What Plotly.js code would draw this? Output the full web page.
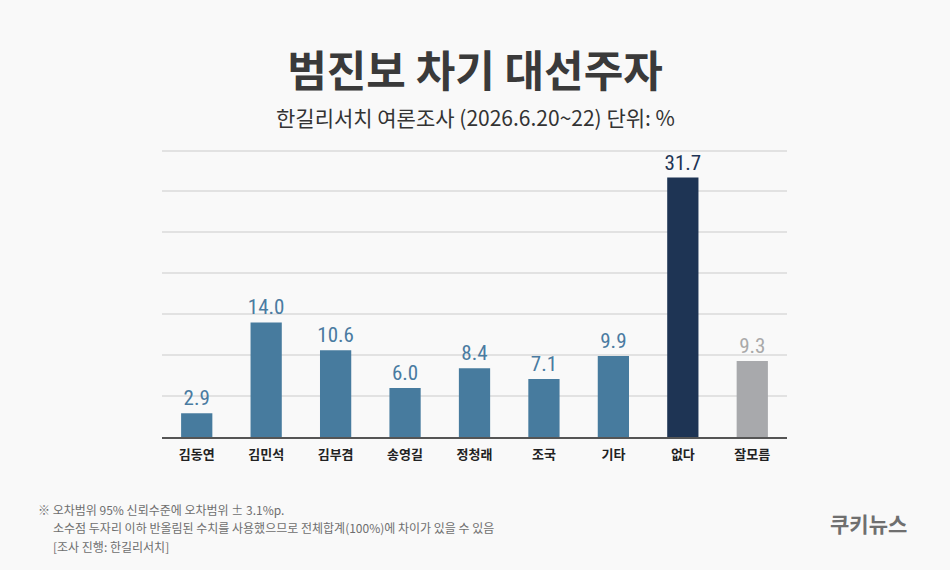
<!DOCTYPE html>
<html>
<head>
<meta charset="utf-8">
<script src="https://cdn.plot.ly/plotly-3.0.1.min.js"></script>
<style>
  html, body { margin: 0; padding: 0; background: #f9f9f9; }
  #chart { width: 950px; height: 570px; }
</style>
</head>
<body>
<div id="chart"></div>
<script>
// Candidate names and support (%)
const candidates = ['김동연', '김민석', '김부겸', '송영길', '정청래', '조국', '기타', '없다', '잘모름'];
const support = [2.9, 14.0, 10.6, 6.0, 8.4, 7.1, 9.9, 31.7, 9.3];

const BLUE = '#477b9e';
const NAVY = '#1e3454';
const GREY = '#a8a9ac';
const barColors = candidates.map(c => c === '없다' ? NAVY : (c === '잘모름' ? GREY : BLUE));
const labelColors = candidates.map(c => c === '없다' ? NAVY : (c === '잘모름' ? '#a9a9a9' : '#4a7ba1'));

const KR = '"Noto Sans CJK KR", "Noto Sans", sans-serif';
const NUM = '"Roboto Condensed", "DejaVu Sans Condensed", "Liberation Sans Narrow", Roboto, sans-serif';

// Plot area: x 162..787, baseline at y 437; the 35 gridline sits near y 150.5
const L = 162, R = 787, T = 147, B = 437;
const YMAX = 35.43;
const px = x => (x - L) / (R - L);
const py = y => (B - y) / (B - T);

const trace = {
  type: 'bar',
  x: candidates,
  y: support,
  marker: { color: barColors, line: { width: 0 } },
  width: 0.45,
  text: support.map(v => v.toFixed(1)),
  textposition: 'outside',
  constraintext: 'none',
  cliponaxis: false,
  textfont: { family: NUM, size: 21, color: labelColors },
  hoverinfo: 'skip'
};

const layout = {
  width: 950,
  height: 570,
  paper_bgcolor: '#f9f9f9',
  plot_bgcolor: '#f9f9f9',
  margin: { l: L, r: 950 - R, t: T, b: 570 - B },
  showlegend: false,
  title: {
    text: '범진보 차기 대선주자',
    font: { family: KR, size: 43, weight: 700, color: '#3a3a3a' },
    x: 0.5, xanchor: 'center',
    y: 1 - 72 / 570, yanchor: 'middle', yref: 'container'
  },
  xaxis: {
    showline: true,
    linecolor: '#555555',
    linewidth: 2,
    ticks: '',
    ticklabelstandoff: 4,
    tickfont: { family: KR, size: 13, weight: 700, color: '#222222' },
    showgrid: false,
    fixedrange: true
  },
  yaxis: {
    range: [0, YMAX],
    tickvals: [5, 10, 15, 20, 25, 30, 35],
    showticklabels: false,
    showgrid: true,
    gridcolor: '#e2e2e2',
    gridwidth: 2,
    zeroline: false,
    fixedrange: true
  },
  annotations: [
    {
      text: '한길리서치 여론조사 (2026.6.20~22) 단위: %',
      xref: 'paper', yref: 'paper', x: px(475), y: py(117),
      xanchor: 'center', yanchor: 'middle', showarrow: false,
      font: { family: KR, size: 21, color: '#333333' }
    },
    {
      text: '※ 오차범위 95% 신뢰수준에 오차범위 ± 3.1%p.',
      xref: 'paper', yref: 'paper', x: px(36), y: py(509),
      xanchor: 'left', yanchor: 'middle', showarrow: false,
      font: { family: KR, size: 12, color: '#6e6e6e' }
    },
    {
      text: '소수점 두자리 이하 반올림된 수치를 사용했으므로 전체합계(100%)에 차이가 있을 수 있음',
      xref: 'paper', yref: 'paper', x: px(51), y: py(527),
      xanchor: 'left', yanchor: 'middle', showarrow: false,
      font: { family: KR, size: 12, color: '#6e6e6e' }
    },
    {
      text: '[조사 진행: 한길리서치]',
      xref: 'paper', yref: 'paper', x: px(51), y: py(546),
      xanchor: 'left', yanchor: 'middle', showarrow: false,
      font: { family: KR, size: 12, color: '#6e6e6e' }
    },
    {
      text: '쿠키뉴스',
      xref: 'paper', yref: 'paper', x: px(868), y: py(523),
      xanchor: 'center', yanchor: 'middle', showarrow: false,
      font: { family: KR, size: 21, weight: 700, color: '#6f6f6f' }
    }
  ]
};

Plotly.newPlot('chart', [trace], layout, { displayModeBar: false, staticPlot: true });
</script>
</body>
</html>
